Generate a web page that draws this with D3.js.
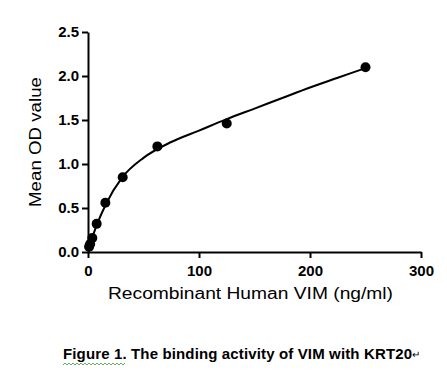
<!DOCTYPE html>
<html>
<head>
<meta charset="utf-8">
<script src="https://cdn.jsdelivr.net/npm/d3@7"></script>
<style>
  body { margin: 0; background: #fff; }
  text { font-family: Arial, "Liberation Sans", sans-serif; fill: #000; }
</style>
</head>
<body>
<div id="chart"></div>
<script>
// measured points (concentration ng/ml vs mean OD)
const conc = [0.98, 1.95, 3.9, 7.81, 15.63, 31.25, 62.5, 125, 250];
const od = [0.06, 0.09, 0.16, 0.32, 0.56, 0.85, 1.20, 1.46, 2.10];

// fitted curve
const fitX = [0, 2, 4, 8, 16, 31, 50, 75, 100, 125, 150, 175, 200, 225, 250];
const fitY = [0.03, 0.10, 0.17, 0.31, 0.54, 0.85, 1.07, 1.25, 1.38, 1.51, 1.63, 1.75, 1.87, 1.98, 2.09];

const xTicks = [0, 100, 200, 300];
const yTicks = [0, 0.5, 1.0, 1.5, 2.0, 2.5];

const width = 447, height = 374;
const margin = {top: 32, left: 88, right: 26, bottom: 122};

const svg = d3.select('#chart')
  .append('svg')
  .attr('width', width)
  .attr('height', height);

const x = d3.scaleLinear().domain([0, 300]).range([margin.left, width - margin.right]);
const y = d3.scaleLinear().domain([0, 2.5]).range([height - margin.bottom, margin.top]);

// axes
const xAxis = d3.axisBottom(x).tickValues(xTicks).tickSize(6).tickSizeOuter(0).tickFormat(d3.format('d'));
const yAxis = d3.axisLeft(y).tickValues(yTicks).tickSize(6).tickSizeOuter(0).tickFormat(d3.format('.1f'));

const gx = svg.append('g')
  .attr('transform', `translate(0,${y(0)})`)
  .call(xAxis);
const gy = svg.append('g')
  .attr('transform', `translate(${x(0)},0)`)
  .call(yAxis);

[gx, gy].forEach(g => {
  g.select('.domain').attr('stroke', '#000').attr('stroke-width', 2);
  g.selectAll('.tick line').attr('stroke', '#000').attr('stroke-width', 2);
  g.selectAll('.tick text')
    .style('font-family', 'Arial, "Liberation Sans", sans-serif')
    .style('font-size', '15px')
    .style('font-weight', 'bold')
    .attr('fill', '#000');
});
gx.selectAll('.tick text').attr('y', 13);
gy.selectAll('.tick text').attr('x', -9);

// fitted curve
const line = d3.line()
  .x((d, i) => x(fitX[i]))
  .y(d => y(d))
  .curve(d3.curveMonotoneX);

svg.append('path')
  .datum(fitY)
  .attr('d', line)
  .attr('fill', 'none')
  .attr('stroke', '#000')
  .attr('stroke-width', 2);

// points
svg.selectAll('.pt')
  .data(conc)
  .enter()
  .append('circle')
  .classed('pt', true)
  .attr('cx', d => x(d))
  .attr('cy', (d, i) => y(od[i]))
  .attr('r', 5)
  .attr('fill', '#000');

// axis titles (glyphs are drawn wide in the original)
svg.append('text')
  .attr('x', 108)
  .attr('y', 299)
  .attr('textLength', 285)
  .attr('lengthAdjust', 'spacingAndGlyphs')
  .style('font-size', '16px')
  .text('Recombinant Human VIM (ng/ml)');

svg.append('text')
  .attr('transform', 'translate(41,207) rotate(-90)')
  .attr('textLength', 130)
  .attr('lengthAdjust', 'spacingAndGlyphs')
  .style('font-size', '16px')
  .text('Mean OD value');

// caption
svg.append('text')
  .attr('x', 63)
  .attr('y', 359)
  .attr('textLength', 349)
  .attr('lengthAdjust', 'spacing')
  .style('font-size', '15px')
  .style('font-weight', 'bold')
  .text('Figure 1. The binding activity of VIM with KRT20');

svg.append('text')
  .attr('x', 412)
  .attr('y', 358)
  .style('font-size', '10px')
  .attr('fill', '#999')
  .text('\u21B5');

// spell-check squiggle under "Figure"
const sq = d3.range(63, 127, 2).map((v, i) => [v, i % 2 ? 363 : 365]);
svg.append('path')
  .attr('d', d3.line()(sq))
  .attr('fill', 'none')
  .attr('stroke', '#3a9a3a')
  .attr('stroke-width', 0.8);
</script>
</body>
</html>
